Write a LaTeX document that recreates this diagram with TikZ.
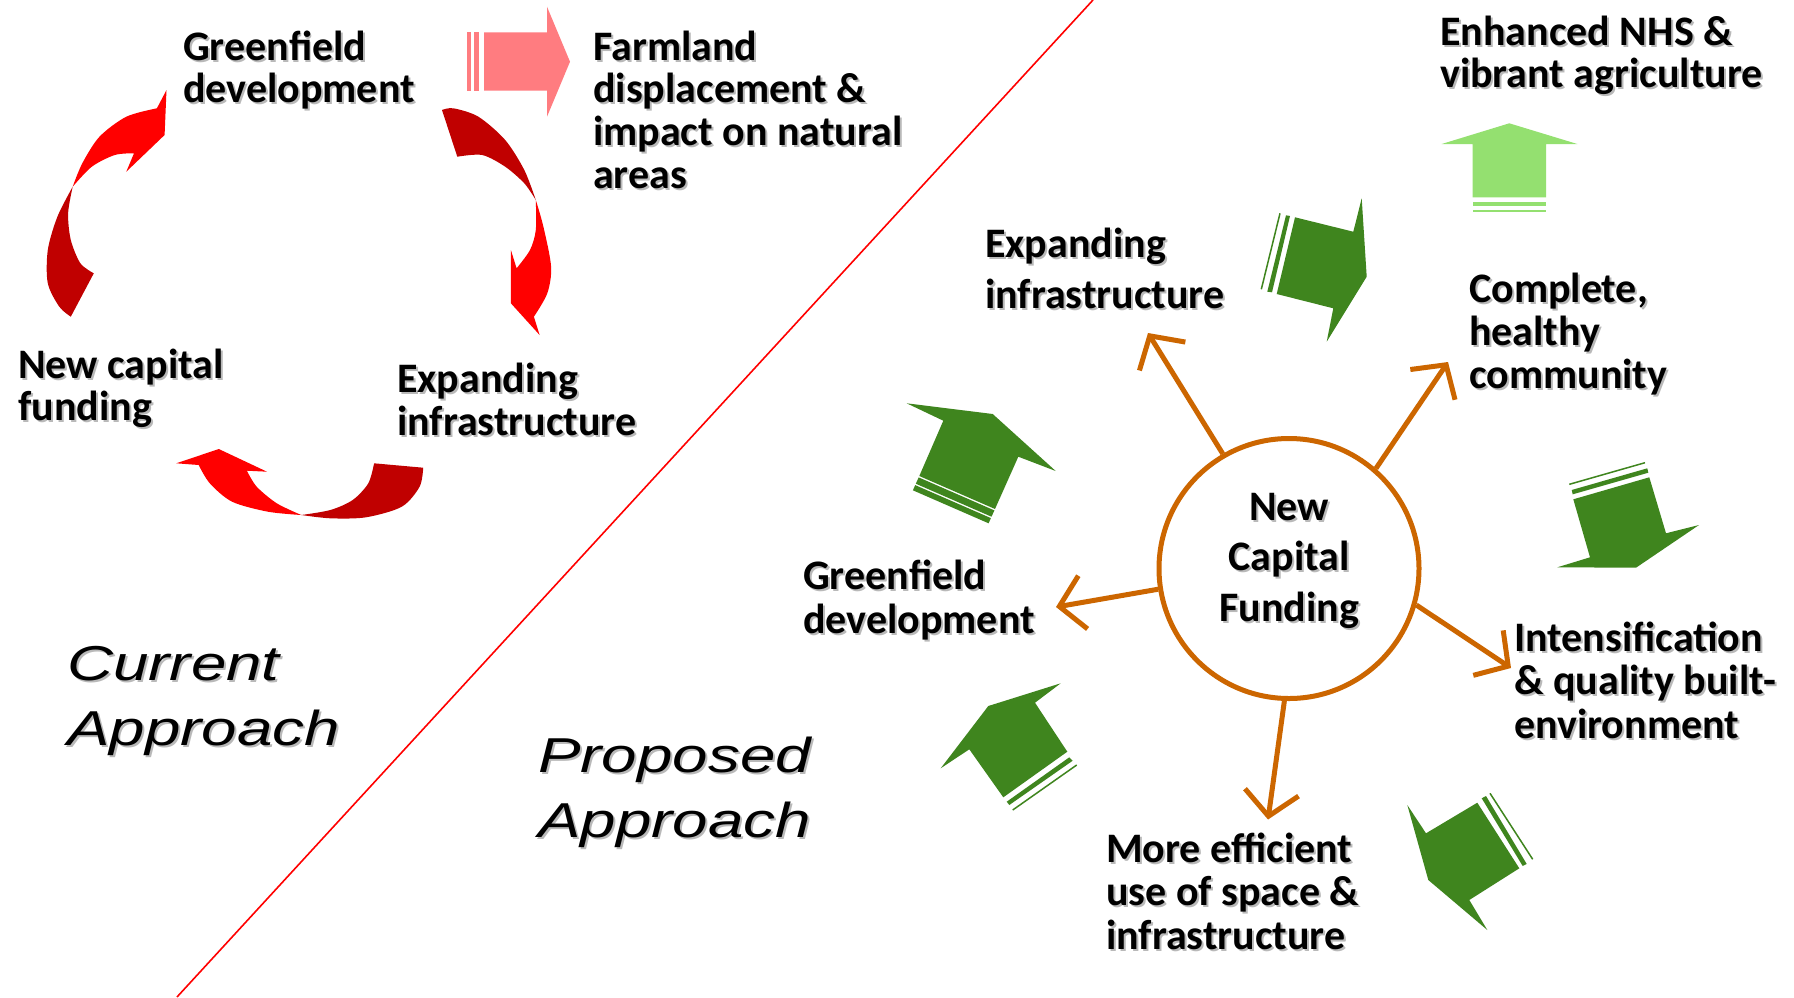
\documentclass[tikz,border=0pt]{standalone}
\usepackage{fontspec}
\usetikzlibrary{arrows.meta}
\newfontfamily\carl{Carlito}
\newfontfamily\apfont{Liberation Sans}[FakeStretch=1.3]
\definecolor{orng}{RGB}{204,102,0}
\definecolor{dgreen}{RGB}{63,133,30}
\definecolor{lgreen}{RGB}{148,224,112}
\definecolor{pinkr}{RGB}{255,124,128}
\definecolor{dred}{RGB}{192,0,0}
\definecolor{brred}{RGB}{255,0,0}
\definecolor{shadowc}{RGB}{185,185,185}
\newcommand\blk[2]{\vtop{\baselineskip=#1pt\lineskip=0pt\lineskiplimit=-1000pt\halign{##\hfil\cr#2\crcr}}}
\newcommand\blkc[2]{\vtop{\baselineskip=#1pt\lineskip=0pt\lineskiplimit=-1000pt\halign{\hfil##\hfil\cr#2\crcr}}}
\newcommand\lbl[5]{%
  \node[#4, text=shadowc] (#1s) at (#2+2,#3+2) {#5};
  \node[#4] (#1) at (#2,#3) {#5};}
\tikzset{
  cal/.style={anchor=base west, inner sep=0pt, font=\carl\bfseries\fontsize{42}{42}\selectfont},
  calc/.style={anchor=base, inner sep=0pt, font=\carl\bfseries\fontsize{42}{42}\selectfont},
  ital/.style={anchor=base west, inner sep=0pt, font=\apfont\itshape\fontsize{49}{49}\selectfont},
  oarr/.style={draw=orng, line width=5pt, -{Straight Barb[length=24pt,width=54pt]}},
  thinstripe/.style={line width=1.5pt},
}
\begin{document}
\begin{tikzpicture}[x=1pt,y=-1pt]
\useasboundingbox (0,0) rectangle (1794,997);
\fill[white] (0,0) rectangle (1794,997);

% dividing line
\coordinate (lt) at (1093,0);
\coordinate (lb) at (177,997);
\draw[brred, line width=1.6pt] (lt) -- (lb);

% ---------- current approach: red twisted arrows ----------
% top-left arrow
\fill[dred] (72.7,186.7) -- plot[smooth] coordinates {(72.7,186.7) (57.4,216.7) (47.8,250) (47.8,283.3) (59.3,306.7) (70.8,316.7)}
  -- (93.8,273.3) -- plot[smooth] coordinates {(93.8,273.3) (80.4,263.3) (70.8,240) (68.1,213.3) (72.7,186.7)} -- cycle;
\fill[brred] (166.5,90) -- (164.6,135) -- (126.3,171.7) -- (134,153.3)
  -- plot[smooth] coordinates {(134,153.3) (114.8,155) (91.8,166.7) (72.7,186.7)}
  -- plot[smooth] coordinates {(72.7,186.7) (82.3,163.3) (99.5,136.7) (126.3,116.7) (156.9,108.3)} -- cycle;
% top-right arrow
\fill[dred] (442,110) -- plot[smooth] coordinates {(442,110) (453.5,108.3) (478.4,116.7) (505.2,140) (524.3,170) (535.8,200)}
  -- plot[smooth] coordinates {(535.8,200) (524.3,183.3) (505.2,166.7) (482.2,155) (457.3,156.7)} -- cycle;
\fill[brred] (535.8,200) -- plot[smooth] coordinates {(535.8,200) (543.4,226.7) (551.1,266.7) (547.3,293.3) (533.9,316.7)}
  -- (539.6,335) -- (510.9,303.3) -- (510.9,250) -- (516.6,268.3)
  -- plot[smooth] coordinates {(516.6,268.3) (530,250) (535.8,230) (535.8,200)} -- cycle;
% bottom arrow
\fill[dred] (374.1,463.3) -- (423.2,467.7)
  -- plot[smooth] coordinates {(423.2,467.7) (419.6,486.7) (401.8,506.7) (366,517.3) (330.4,518.3) (301.3,515)}
  -- plot[smooth] coordinates {(301.3,515) (330.4,510) (352.7,500) (368.3,483.3) (374.1,463.3)} -- cycle;
\fill[brred] (301.3,515) -- plot[smooth] coordinates {(301.3,515) (267.9,511.7) (232.1,501.7) (209.8,483.3) (198.7,465)}
  -- (176.3,463.3) -- (218.8,449) -- (267,471.7) -- (246.9,470.7)
  -- plot[smooth] coordinates {(246.9,470.7) (256.7,486.7) (276.8,503.3) (301.3,515)} -- cycle;

% pink striped arrow
\fill[pinkr] (484,32.3) -- (547,32.3) -- (547,6.7) -- (570,61.7) -- (547,116.7) -- (547,90.7) -- (484,90.7) -- cycle;
\fill[pinkr] (467,32.3) rectangle (470.5,90.7);
\fill[pinkr] (474,32.3) rectangle (478.5,90.7);

% ---------- labels, left ----------
\lbl{lgreen1}{183}{60}{cal}{\blk{42}{Greenfield\cr development}}
\lbl{farm}{593}{60}{cal}{\blk{42.7}{Farmland\cr displacement \&\cr impact on natural\cr areas}}
\lbl{lnew}{18}{378}{cal}{\blk{42}{New capital\cr funding}}
\lbl{lexp}{397}{392}{cal}{\blk{43}{Expanding\cr infrastructure}}
\lbl{cur}{67}{680}{ital}{\blk{65}{Current\cr Approach}}
\lbl{prop}{538}{772}{ital}{\blk{65}{Proposed\cr Approach}}

% ---------- proposed approach ----------
% light green arrow
\fill[lgreen] (1509.3,123.3) -- (1577.3,144) -- (1546,144) -- (1546,197.3) -- (1472.7,197.3) -- (1472.7,144) -- (1441.7,144) -- cycle;
\fill[lgreen] (1472.7,202.3) rectangle (1546,205.7);
\fill[lgreen] (1472.7,210) rectangle (1546,211.7);

% dark green arrows
% A1
\fill[dgreen] (1295,217.3) -- (1353.3,231.7) -- (1361.7,198.3) -- (1366.7,276.7) -- (1326.7,341.7) -- (1333.3,308.3) -- (1276.7,294) -- cycle;
\fill[dgreen] (1286,215.3) -- (1290,216) -- (1272,292.3) -- (1267.3,291.7) -- cycle;
\draw[dgreen, thinstripe] (1280,213.3) -- (1261.3,289.3);
% A2
\fill[dgreen] (1573.3,499.3) -- (1649.3,477.3) -- (1666,533.3) -- (1699,525) -- (1636,567.7) -- (1557.3,567.3) -- (1590,557.3) -- cycle;
\fill[dgreen] (1571.7,490) -- (1647.3,468.3) -- (1648.3,472.7) -- (1572.7,494.3) -- cycle;
\draw[dgreen, thinstripe] (1569.3,484.3) -- (1645,462.7);
% A3
\fill[dgreen] (906.7,403.3) -- (992.7,414) -- (1055.7,471) -- (1018.3,456.7) -- (995,509) -- (919.3,476) -- (943.3,420.7) -- cycle;
\fill[dgreen] (918.7,477.4) -- (994.4,510.4) -- (991.5,516.7) -- (915.8,483.7) -- cycle;
\fill[dgreen] (915.2,485.1) -- (990.9,518.1) -- (988.6,523.3) -- (912.9,490.3) -- cycle;
% A4
\fill[dgreen] (1060.7,683.3) -- (988.3,706) -- (940.7,768.3) -- (969.3,749.3) -- (1003.3,797.3) -- (1067.3,751.7) -- (1035,702.7) -- cycle;
\fill[dgreen] (1069.3,757.3) -- (1072.7,760.7) -- (1009.3,805) -- (1006.7,801.7) -- cycle;
\draw[dgreen, thinstripe] (1076.7,765) -- (1012.7,810);
% A5
\fill[dgreen] (1407.3,805) -- (1426,833.3) -- (1477.3,802.7) -- (1519.3,868.3) -- (1469.3,900) -- (1487.3,930) -- (1428.3,880) -- cycle;
\fill[dgreen] (1481.7,798.3) -- (1486,796) -- (1526.7,864) -- (1522.7,866) -- cycle;
\draw[dgreen, thinstripe] (1490,793.3) -- (1532.7,859.3);

% central circle
\node[circle, draw=orng, line width=5pt, minimum size=260pt, inner sep=0pt] (fund) at (1289,568.5) {};
\lbl{fundt}{1289}{520}{calc}{\blkc{50.5}{New\cr Capital\cr Funding}}

% orange arrows
\coordinate (t1) at (1148,333);
\coordinate (t2) at (1448,362);
\coordinate (t3) at (1056,607);
\coordinate (t4) at (1511,668);
\coordinate (t5) at (1268,819.5);
\draw[oarr] (fund.120.3) -- (t1);
\draw[oarr] (fund.49.7) -- (t2);
\draw[oarr] (fund.189.9) -- (t3);
\draw[oarr] (fund.-16.1) -- (t4);
\draw[oarr] (fund.-92.8) -- (t5);

% labels, right
\lbl{nhs}{1440}{45}{cal}{\blk{42}{Enhanced NHS \&\cr vibrant agriculture}}
\lbl{rexp}{985}{257}{cal}{\blk{51}{Expanding\cr infrastructure}}
\lbl{comp}{1469}{302}{cal}{\blk{43}{Complete,\cr healthy\cr community}}
\lbl{rgreen}{803}{589}{cal}{\blk{44}{Greenfield\cr development}}
\lbl{inten}{1514}{651}{cal}{\blk{43.5}{Intensification\cr \& quality built-\cr environment}}
\lbl{eff}{1106}{862}{cal}{\blk{43.5}{More efficient\cr use of space \&\cr infrastructure}}
\end{tikzpicture}
\end{document}
